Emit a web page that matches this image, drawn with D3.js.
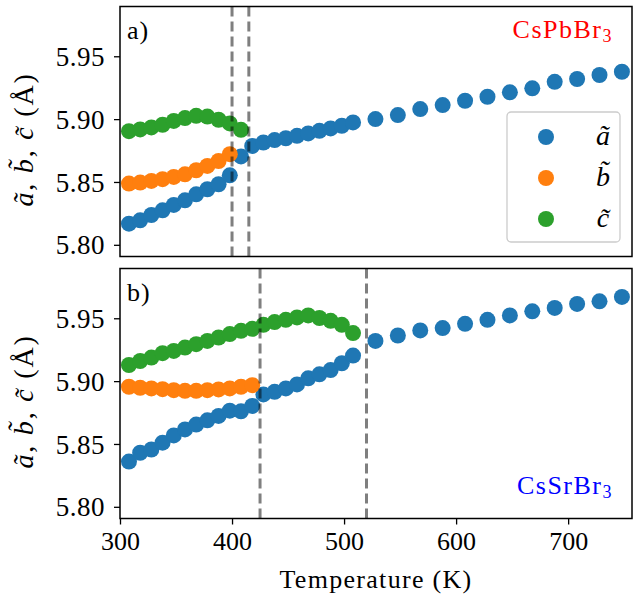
<!DOCTYPE html>
<html><head><meta charset="utf-8">
<script src="https://cdn.jsdelivr.net/npm/d3@7"></script>
<style>
html,body{margin:0;padding:0;background:#fff;}
svg text{font-family:"Liberation Serif","Times New Roman",serif !important;}
</style>
</head><body>
<svg id="chart" width="637" height="597" font-family="Liberation Serif"></svg>
<script>
// ---------- DATA ----------
const xTicks = [300, 400, 500, 600, 700];
const yTicks = [5.80, 5.85, 5.90, 5.95];

// CsPbBr3 (panel a)
const pbTempA = [308,318,328,338,348,358,368,378,388,398,408,418,428,438,448,458,468,478,488,498,508,528,548,568,588,608,628,648,668,688,708,728,748];
const pbA = [5.8168,5.8195,5.8237,5.8274,5.8317,5.8354,5.8402,5.8442,5.8482,5.8553,5.8703,5.8787,5.8814,5.8833,5.8848,5.8867,5.8886,5.8907,5.8926,5.8947,5.8974,5.9000,5.9032,5.9080,5.9112,5.9146,5.9178,5.9213,5.9245,5.9297,5.9319,5.9351,5.9377];
const pbTempB = [308,318,328,338,348,358,368,378,388,398];
const pbB = [5.8487,5.8495,5.8508,5.8522,5.8540,5.8561,5.8593,5.8628,5.8667,5.8721];
const pbTempC = [308,318,328,338,348,358,368,378,388,398,408];
const pbC = [5.8904,5.8918,5.8934,5.8955,5.8986,5.9008,5.9026,5.9020,5.8995,5.8966,5.8915];
const pbTransitions = [400, 415];

// CsSrBr3 (panel b)
const srTempA = [308,318,328,338,348,358,368,378,388,398,408,418,428,438,448,458,468,478,488,498,508,528,548,568,588,608,628,648,668,688,708,728,748];
const srA = [5.8360,5.8430,5.8456,5.8510,5.8568,5.8616,5.8654,5.8688,5.8723,5.8765,5.8760,5.8803,5.8894,5.8915,5.8942,5.8974,5.9022,5.9054,5.9088,5.9142,5.9203,5.9320,5.9363,5.9403,5.9422,5.9456,5.9488,5.9523,5.9555,5.9582,5.9614,5.9635,5.9670];
const srTempB = [308,318,328,338,348,358,368,378,388,398,408,418];
const srB = [5.8955,5.8947,5.8942,5.8936,5.8928,5.8923,5.8923,5.8928,5.8934,5.8942,5.8955,5.8968];
const srTempC = [308,318,328,338,348,358,368,378,388,398,408,418,428,438,448,458,468,478,488,498,508];
const srC = [5.9128,5.9160,5.9187,5.9222,5.9240,5.9267,5.9294,5.9320,5.9347,5.9374,5.9400,5.9416,5.9448,5.9470,5.9488,5.9507,5.9523,5.9502,5.9480,5.9448,5.9382];
const srTransitions = [425, 520];

const seriesColors = ["#1f77b4", "#ff7f0e", "#2ca02c"];
const legendLabels = ["a", "b", "c"];

// ---------- DRAW ----------
const FONT = '"Liberation Serif", "Times New Roman", serif';
const svg = d3.select("#chart");
const left = 120, right = 632;
const x = d3.scaleLinear().domain([300, 757]).range([left, right]);
const yDomain = [5.7907, 5.9896];
const R = 8;

const panels = [
  {top: 6.5, bottom: 256.5, series: [[pbTempA,pbA],[pbTempB,pbB],[pbTempC,pbC]], trans: pbTransitions,
   tag: "a)", name: "CsPbBr", nameColor: "#ff0000", nameY: 38, showX: false, legend: true},
  {top: 268.5, bottom: 518.5, series: [[srTempA,srA],[srTempB,srB],[srTempC,srC]], trans: srTransitions,
   tag: "b)", name: "CsSrBr", nameColor: "#0000ff", nameY: 494, showX: true, legend: false}
];

panels.forEach(p => {
  const y = d3.scaleLinear().domain(yDomain).range([p.bottom, p.top]);
  const g = svg.append("g");
  const clipId = "clip" + p.tag[0];
  svg.append("clipPath").attr("id", clipId).append("rect")
    .attr("x", left).attr("y", p.top).attr("width", right-left).attr("height", p.bottom-p.top);
  const plot = g.append("g").attr("clip-path", `url(#${clipId})`);

  p.series.forEach((s, i) => {
    const pts = s[0].map((t, k) => [t, s[1][k]]);
    plot.selectAll(null).data(pts).enter().append("circle")
      .attr("cx", d => x(d[0])).attr("cy", d => y(d[1])).attr("r", R)
      .attr("fill", seriesColors[i]);
  });

  p.trans.forEach(t => {
    plot.append("line").attr("x1", x(t)).attr("x2", x(t))
      .attr("y1", p.top).attr("y2", p.bottom)
      .attr("stroke", "#000").attr("stroke-opacity", 0.5)
      .attr("stroke-width", 3).attr("stroke-dasharray", "10,5");
  });

  // y axis
  const yAxis = d3.axisLeft(y).tickValues(yTicks).tickFormat(d3.format(".2f")).tickSize(6).tickPadding(9);
  const ya = g.append("g").attr("transform", `translate(${left},0)`).call(yAxis)
    .attr("font-family", FONT).attr("font-size", 27);
  ya.select(".domain").remove();
  ya.selectAll(".tick line").attr("stroke", "#000").attr("stroke-width", 1.3);
  ya.selectAll(".tick text").attr("fill", "#000").attr("dy", "0.34em").attr("letter-spacing", 0.5);

  if (p.showX) {
    const xAxis = d3.axisBottom(x).tickValues(xTicks).tickFormat(d3.format("d")).tickSize(6).tickPadding(7);
    const xa = g.append("g").attr("transform", `translate(0,${p.bottom})`).call(xAxis)
      .attr("font-family", FONT).attr("font-size", 26);
    xa.select(".domain").remove();
    xa.selectAll(".tick line").attr("stroke", "#000").attr("stroke-width", 1.3);
    xa.selectAll(".tick text").attr("fill", "#000");
  }

  // frame
  g.append("rect").attr("x", left).attr("y", p.top).attr("width", right-left).attr("height", p.bottom-p.top)
    .attr("fill", "none").attr("stroke", "#000").attr("stroke-width", 1.5);

  // panel tag
  g.append("text").attr("x", 127).attr("y", p.top + 32).attr("font-size", 26)
    .attr("letter-spacing", 1).text(p.tag);

  // compound name
  const nt = g.append("text").attr("x", 613).attr("y", p.nameY).attr("text-anchor", "end")
    .attr("font-size", 26).attr("fill", p.nameColor).attr("letter-spacing", 1.5);
  nt.append("tspan").text(p.name);
  nt.append("tspan").attr("font-size", 18).attr("dy", 4).text("3");

  // y label
  const cy = (p.top + p.bottom) / 2 + 8;
  const yl = g.append("text").attr("transform", `translate(33,${cy}) rotate(-90)`)
    .attr("text-anchor", "middle").attr("font-size", 28).attr("letter-spacing", 1.8);
  yl.append("tspan").attr("font-style", "italic").text("a\u0303");
  yl.append("tspan").text(", ");
  yl.append("tspan").attr("font-style", "italic").text("b\u0303");
  yl.append("tspan").text(", ");
  yl.append("tspan").attr("font-style", "italic").text("c\u0303");
  yl.append("tspan").text(" (\u00C5)");

  if (p.legend) {
    const lg = g.append("g");
    lg.append("rect").attr("x", 507).attr("y", 112).attr("width", 113).attr("height", 130)
      .attr("rx", 4).attr("fill", "#fff").attr("fill-opacity", 0.8)
      .attr("stroke", "#cccccc").attr("stroke-width", 1.3);
    legendLabels.forEach((lab, i) => {
      const ly = 137 + i * 41;
      lg.append("circle").attr("cx", 546).attr("cy", ly).attr("r", R).attr("fill", seriesColors[i]);
      lg.append("text").attr("x", 603).attr("y", ly + 8).attr("text-anchor", "middle")
        .attr("font-size", 28).attr("font-style", "italic").text(lab + "\u0303");
    });
  }
});

svg.append("text").attr("x", (left + right) / 2).attr("y", 588).attr("text-anchor", "middle")
  .attr("font-size", 26).attr("letter-spacing", 1.3).text("Temperature (K)");
</script>
</body></html>
